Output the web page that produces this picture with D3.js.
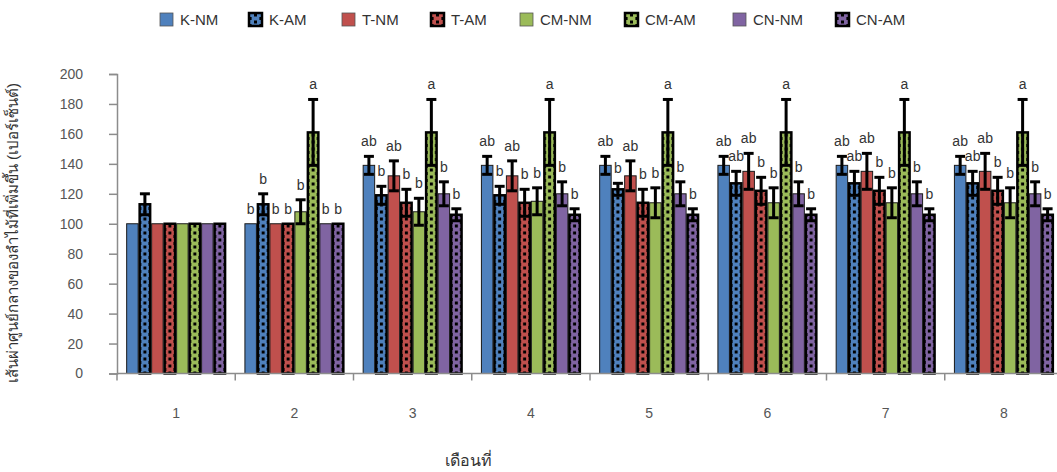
<!DOCTYPE html>
<html>
<head>
<meta charset="utf-8">
<script src="https://cdn.jsdelivr.net/npm/d3@7"></script>
<style>
  html, body { margin: 0; padding: 0; background: #fff; }
  svg { display: block; }
  text { font-family: "Liberation Sans", Arial, sans-serif; }
</style>
</head>
<body>
<svg id="chart" width="1057" height="472"></svg>
<script>
// ---------------- data ----------------
const categories = ["1", "2", "3", "4", "5", "6", "7", "8"];
const seriesNames = ["K-NM", "K-AM", "T-NM", "T-AM", "CM-NM", "CM-AM", "CN-NM", "CN-AM"];
const seriesColors = ["#4F81BD", "#4F81BD", "#C0504D", "#C0504D", "#9BBB59", "#9BBB59", "#8064A2", "#8064A2"];
const seriesPatterned = [false, true, false, true, false, true, false, true];

const kNM = [100, 100, 139, 139, 139, 139, 139, 139];
const kAM = [113, 113, 119, 119, 123, 127, 127, 127];
const tNM = [100, 100, 132, 132, 132, 135, 135, 135];
const tAM = [100, 100, 114, 114, 114, 122, 122, 122];
const cmNM = [100, 108, 108, 115, 114, 114, 114, 114];
const cmAM = [100, 161, 161, 161, 161, 161, 161, 161];
const cnNM = [100, 100, 120, 120, 120, 120, 120, 120];
const cnAM = [100, 100, 106, 106, 106, 106, 106, 106];

const kNMerr = [0, 0, 6, 6, 6, 6, 6, 6];
const kAMerr = [7, 7, 6, 6, 4, 8, 8, 8];
const tNMerr = [0, 0, 10, 10, 10, 12, 12, 12];
const tAMerr = [0, 0, 9, 9, 9, 9, 9, 9];
const cmNMerr = [0, 8, 9, 9, 10, 10, 10, 10];
const cmAMerr = [0, 22, 22, 22, 22, 22, 22, 22];
const cnNMerr = [0, 0, 8, 8, 8, 8, 8, 8];
const cnAMerr = [0, 0, 4, 4, 4, 4, 4, 4];

const kNMlet = ["", "b", "ab", "ab", "ab", "ab", "ab", "ab"];
const kAMlet = ["", "b", "b", "b", "b", "ab", "ab", "ab"];
const tNMlet = ["", "b", "ab", "ab", "ab", "ab", "ab", "ab"];
const tAMlet = ["", "b", "b", "b", "b", "b", "b", "b"];
const cmNMlet = ["", "b", "b", "b", "b", "b", "b", "b"];
const cmAMlet = ["", "a", "a", "a", "a", "a", "a", "a"];
const cnNMlet = ["", "b", "b", "b", "b", "b", "b", "b"];
const cnAMlet = ["", "b", "b", "b", "b", "b", "b", "b"];

const yTicks = [0, 20, 40, 60, 80, 100, 120, 140, 160, 180, 200];
const yTitle = "เส้นผ่าศูนย์กลางของลำไม้ที่เพิ่มขึ้น (เปอร์เซ็นต์)";
const xTitle = "เดือนที่";

const seriesValues = [kNM, kAM, tNM, tAM, cmNM, cmAM, cnNM, cnAM];
const seriesErrors = [kNMerr, kAMerr, tNMerr, tAMerr, cmNMerr, cmAMerr, cnNMerr, cnAMerr];
const seriesLetters = [kNMlet, kAMlet, tNMlet, tAMlet, cmNMlet, cmAMlet, cnNMlet, cnAMlet];

// ---------------- layout ----------------
const svg = d3.select("#chart");
const plotLeft = 117, plotRight = 1063, plotTop = 74, plotBottom = 373.5;

const y = d3.scaleLinear().domain([0, 200]).range([plotBottom, plotTop]);
const x = d3.scaleBand().domain(categories).range([plotLeft, plotRight])
  .paddingInner(0.155).paddingOuter(0.0775);
const xs = d3.scaleBand().domain(seriesNames).range([0, x.bandwidth()]).padding(0);
const bw = xs.bandwidth();

// patterns: dotted column, aligned to each bar's own left edge
const defs = svg.append("defs");
function makePattern(id, color, w) {
  const p = defs.append("pattern").attr("id", id)
    .attr("patternUnits", "userSpaceOnUse").attr("width", w).attr("height", 7);
  p.append("rect").attr("width", w).attr("height", 7).attr("fill", color);
  p.append("rect").attr("x", w / 2 - 1.5).attr("y", 0.5).attr("width", 3).attr("height", 3).attr("fill", "#000");
  p.append("rect").attr("x", 0).attr("y", 4).attr("width", 2.6).attr("height", 3).attr("fill", "#000");
  p.append("rect").attr("x", w - 2.6).attr("y", 4).attr("width", 2.6).attr("height", 3).attr("fill", "#000");
}
seriesNames.forEach((s, i) => {
  if (!seriesPatterned[i]) return;
  makePattern("pat" + i, seriesColors[i], bw);
  makePattern("lpat" + i, seriesColors[i], 13);
});
function fillFor(i, legend) {
  return seriesPatterned[i] ? "url(#" + (legend ? "lpat" : "pat") + i + ")" : seriesColors[i];
}

// y axis
const yAxis = d3.axisLeft(y).tickValues(yTicks).tickSize(8).tickPadding(26);
const gy = svg.append("g").attr("transform", `translate(${plotLeft},0)`).call(yAxis);
gy.select(".domain").attr("stroke", "#8c8c8c").attr("stroke-width", 1.5);
gy.selectAll(".tick line").attr("stroke", "#8c8c8c").attr("stroke-width", 1.5);
gy.selectAll(".tick text").attr("font-size", 14).attr("fill", "#555")
  .attr("font-family", "'Liberation Sans', Arial, sans-serif");

// bars
seriesNames.forEach((s, si) => {
  const data = categories.map((c, ci) => ({ c, v: seriesValues[si][ci] }));
  const pat = seriesPatterned[si];
  svg.append("g").selectAll("g").data(data).join("g")
    .attr("transform", d => `translate(${x(d.c) + xs(s)},0)`)
    .append("rect")
    .attr("x", pat ? 1 : 0.5)
    .attr("y", d => y(d.v))
    .attr("width", bw - (pat ? 2 : 1))
    .attr("height", d => y(0) - y(d.v))
    .attr("fill", fillFor(si, false))
    .attr("stroke", pat ? "#000" : "#1a1a1a")
    .attr("stroke-width", pat ? 2.5 : 1);
});

// error bars (both directions)
seriesNames.forEach((s, si) => {
  const data = categories.map((c, ci) => ({ c, v: seriesValues[si][ci], e: seriesErrors[si][ci] }))
    .filter(d => d.e > 0);
  const g = svg.append("g");
  const cx = d => x(d.c) + xs(s) + bw / 2;
  g.selectAll("line.v").data(data).join("line").attr("class", "v")
    .attr("x1", cx).attr("x2", cx)
    .attr("y1", d => y(d.v + d.e)).attr("y2", d => y(d.v - d.e))
    .attr("stroke", "#000").attr("stroke-width", 3);
  g.selectAll("line.t").data(data).join("line").attr("class", "t")
    .attr("x1", d => cx(d) - 5).attr("x2", d => cx(d) + 5)
    .attr("y1", d => y(d.v + d.e)).attr("y2", d => y(d.v + d.e))
    .attr("stroke", "#000").attr("stroke-width", 3);
  g.selectAll("line.b").data(data).join("line").attr("class", "b")
    .attr("x1", d => cx(d) - 5).attr("x2", d => cx(d) + 5)
    .attr("y1", d => y(d.v - d.e)).attr("y2", d => y(d.v - d.e))
    .attr("stroke", "#000").attr("stroke-width", 3);
});

// significance letters
seriesNames.forEach((s, si) => {
  const data = categories.map((c, ci) => ({ c, v: seriesValues[si][ci], e: seriesErrors[si][ci], l: seriesLetters[si][ci] }))
    .filter(d => d.l);
  svg.append("g").selectAll("text").data(data).join("text")
    .attr("x", d => x(d.c) + xs(s) + bw / 2)
    .attr("y", d => y(d.v + d.e) - 10)
    .attr("text-anchor", "middle")
    .attr("font-size", 14).attr("fill", "#333")
    .text(d => d.l);
});

// x axis
const gx = svg.append("g").attr("transform", `translate(0,${plotBottom})`);
gx.append("line").attr("x1", plotLeft).attr("x2", plotRight).attr("y1", 0).attr("y2", 0)
  .attr("stroke", "#8c8c8c").attr("stroke-width", 1.5);
const step = x.step();
const boundaries = d3.range(categories.length + 1).map(i => plotLeft + i * step);
gx.selectAll("line.tk").data(boundaries).join("line").attr("class", "tk")
  .attr("x1", d => d).attr("x2", d => d).attr("y1", 0).attr("y2", 7)
  .attr("stroke", "#8c8c8c").attr("stroke-width", 1.5);
gx.selectAll("text").data(categories).join("text")
  .attr("x", d => x(d) + x.bandwidth() / 2)
  .attr("y", 44)
  .attr("text-anchor", "middle").attr("font-size", 14).attr("fill", "#555")
  .text(d => d);

// titles
svg.append("text").attr("x", 468).attr("y", 466).attr("text-anchor", "middle")
  .attr("font-size", 16).attr("fill", "#333")
  .attr("font-family", "'Noto Sans Thai', 'Noto Sans', 'DejaVu Sans', sans-serif")
  .text(xTitle);
svg.append("text").attr("transform", "translate(18,233) rotate(-90)")
  .attr("text-anchor", "middle").attr("font-size", 15).attr("fill", "#333")
  .attr("font-family", "'Noto Sans Thai', 'Noto Sans', 'DejaVu Sans', sans-serif")
  .text(yTitle);

// legend
const legendX = [160, 249, 342, 431, 520, 625, 733, 836];
const lg = svg.append("g");
seriesNames.forEach((s, i) => {
  lg.append("g").attr("transform", `translate(${legendX[i]},13)`)
    .append("rect").attr("width", 13).attr("height", 13)
    .attr("fill", fillFor(i, true))
    .attr("stroke", seriesPatterned[i] ? "#000" : "#555")
    .attr("stroke-width", seriesPatterned[i] ? 2.5 : 0.8);
  lg.append("text").attr("x", legendX[i] + 20).attr("y", 25)
    .attr("font-size", 15).attr("fill", "#333").text(s);
});
</script>
</body>
</html>
